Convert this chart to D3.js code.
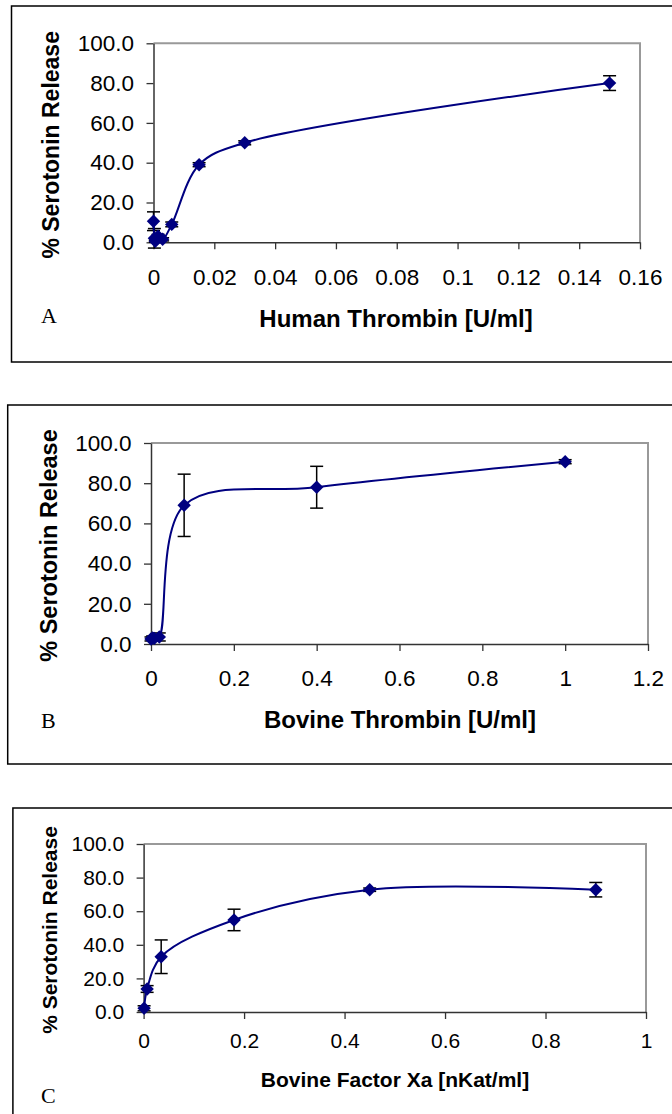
<!DOCTYPE html>
<html>
<head>
<meta charset="utf-8">
<script src="https://cdn.jsdelivr.net/npm/d3@7"></script>
<style>
  body { margin: 0; background: #fff; }
  svg { display: block; }
</style>
</head>
<body>
<div id="chart"></div>
<script>
// panel A - human thrombin
const humanDose = [0, 0.0003, 0.0006, 0.0015, 0.003, 0.006, 0.015, 0.03, 0.15];
const humanRelease = [10.6, 2.0, 0.5, 3.0, 1.5, 9.0, 39.0, 50.0, 80.0];
const humanErr = [4.7, 4.9, 0.5, 1.0, 0.8, 1.2, 1.0, 1.0, 3.7];
const humanTicks = [0, 0.02, 0.04, 0.06, 0.08, 0.1, 0.12, 0.14, 0.16];

// panel B - bovine thrombin
const bovineDose = [0, 0.004, 0.008, 0.02, 0.08, 0.4, 1];
const bovineRelease = [2.5, 3.0, 2.8, 3.5, 69.0, 78.0, 90.7];
const bovineErr = [1.0, 1.0, 1.0, 2.0, 15.5, 10.4, 1.0];
const bovineTicks = [0, 0.2, 0.4, 0.6, 0.8, 1, 1.2];

// panel C - bovine factor Xa
const xaDose = [0.001, 0.007, 0.035, 0.18, 0.45, 0.9];
const xaRelease = [2.2, 13.7, 32.9, 54.8, 72.8, 72.8];
const xaErr = [1.5, 2.0, 10.0, 6.4, 1.0, 4.3];
const xaTicks = [0, 0.2, 0.4, 0.6, 0.8, 1];

const releaseTicks = [0, 20, 40, 60, 80, 100];
const yTitle = "% Serotonin Release";

const panels = [
  {label: "A", dose: humanDose, rel: humanRelease, err: humanErr, ticks: humanTicks,
   title: "Human Thrombin [U/ml]",
   box: [11.5, 6, 356], left: 153.5, right: 640, top: 43.3, bottom: 242.3,
   tickFont: 22.5, titleFont: 24, yTitleFont: 23, xPad: 20,
   yTitleX: 59, titleX: 396, titleY: 327, labelY: 323},
  {label: "B", dose: bovineDose, rel: bovineRelease, err: bovineErr, ticks: bovineTicks,
   title: "Bovine Thrombin [U/ml]",
   box: [7.7, 405, 359], left: 151, right: 648, top: 443, bottom: 644,
   tickFont: 22.5, titleFont: 24, yTitleFont: 23.5, xPad: 19,
   yTitleX: 57, titleX: 400, titleY: 728, labelY: 728},
  {label: "C", dose: xaDose, rel: xaRelease, err: xaErr, ticks: xaTicks,
   title: "Bovine Factor Xa [nKat/ml]",
   box: [12.9, 808, 400], left: 143.6, right: 646, top: 844, bottom: 1012,
   tickFont: 21, titleFont: 21, yTitleFont: 21, xPad: 14,
   yTitleX: 57, titleX: 395, titleY: 1087, labelY: 1103}
];

const svg = d3.select("#chart").append("svg")
  .attr("width", 672)
  .attr("height", 1114)
  .style("background", "#fff");

const navy = "#000080";
const sans = "Arial, 'Liberation Sans', sans-serif";

panels.forEach(p => {
  const pts = p.dose.map((d, i) => ({x: d, y: p.rel[i], e: p.err[i]}));

  const x = d3.scaleLinear().domain([p.ticks[0], p.ticks[p.ticks.length - 1]]).range([p.left, p.right]);
  const y = d3.scaleLinear().domain([0, 100]).range([p.bottom, p.top]);

  // outer box (right side runs off the page)
  svg.append("rect")
    .attr("x", p.box[0]).attr("y", p.box[1])
    .attr("width", 700).attr("height", p.box[2])
    .attr("fill", "none").attr("stroke", "#000").attr("stroke-width", 1.5);

  // plot frame top + right
  svg.append("path")
    .attr("d", `M${p.left},${p.top}H${p.right}V${p.bottom}`)
    .attr("fill", "none").attr("stroke", "#999").attr("stroke-width", 2);

  const yAxis = svg.append("g")
    .attr("transform", `translate(${p.left},0)`)
    .call(d3.axisLeft(y).tickValues(releaseTicks).tickFormat(d3.format(".1f"))
      .tickSize(7).tickSizeOuter(0).tickPadding(12.5));

  const xAxis = svg.append("g")
    .attr("transform", `translate(0,${p.bottom})`)
    .call(d3.axisBottom(x).tickValues(p.ticks).tickFormat(d3.format("~g"))
      .tickSize(7).tickSizeOuter(0).tickPadding(p.xPad));

  [yAxis, xAxis].forEach(g => {
    g.selectAll("text").attr("font-family", sans).attr("font-size", p.tickFont).attr("fill", "#000");
    g.selectAll("line").attr("stroke", "#333").attr("stroke-width", 1.3);
    g.select(".domain").attr("stroke", "#333").attr("stroke-width", 1.5);
  });

  // error bars
  const eb = svg.append("g").attr("stroke", "#000").attr("stroke-width", 1.5);
  pts.forEach(d => {
    const cx = x(d.x), y1 = y(d.y + d.e), y2 = y(d.y - d.e);
    eb.append("line").attr("x1", cx).attr("x2", cx).attr("y1", y1).attr("y2", y2);
    eb.append("line").attr("x1", cx - 6.5).attr("x2", cx + 6.5).attr("y1", y1).attr("y2", y1);
    eb.append("line").attr("x1", cx - 6.5).attr("x2", cx + 6.5).attr("y1", y2).attr("y2", y2);
  });

  // smoothed line
  svg.append("path")
    .datum(pts)
    .attr("fill", "none")
    .attr("stroke", navy)
    .attr("stroke-width", 2)
    .attr("d", d3.line().x(d => x(d.x)).y(d => y(d.y)).curve(d3.curveCatmullRom.alpha(0.5)));

  // diamond markers
  svg.append("g").selectAll("path")
    .data(pts)
    .join("path")
    .attr("d", d3.symbol().type(d3.symbolSquare).size(90))
    .attr("transform", d => `translate(${x(d.x)},${y(d.y)}) rotate(45)`)
    .attr("fill", navy);

  // axis titles
  svg.append("text")
    .attr("transform", `translate(${p.yTitleX},${(p.top + p.bottom) / 2 + 2}) rotate(-90)`)
    .attr("text-anchor", "middle")
    .attr("font-family", sans).attr("font-weight", "bold").attr("font-size", p.yTitleFont)
    .text(yTitle);

  svg.append("text")
    .attr("x", p.titleX).attr("y", p.titleY)
    .attr("text-anchor", "middle")
    .attr("font-family", sans).attr("font-weight", "bold").attr("font-size", p.titleFont)
    .text(p.title);

  svg.append("text")
    .attr("x", 41).attr("y", p.labelY)
    .attr("font-family", "'Times New Roman', 'Liberation Serif', serif").attr("font-size", 22)
    .text(p.label);
});
</script>
</body>
</html>
